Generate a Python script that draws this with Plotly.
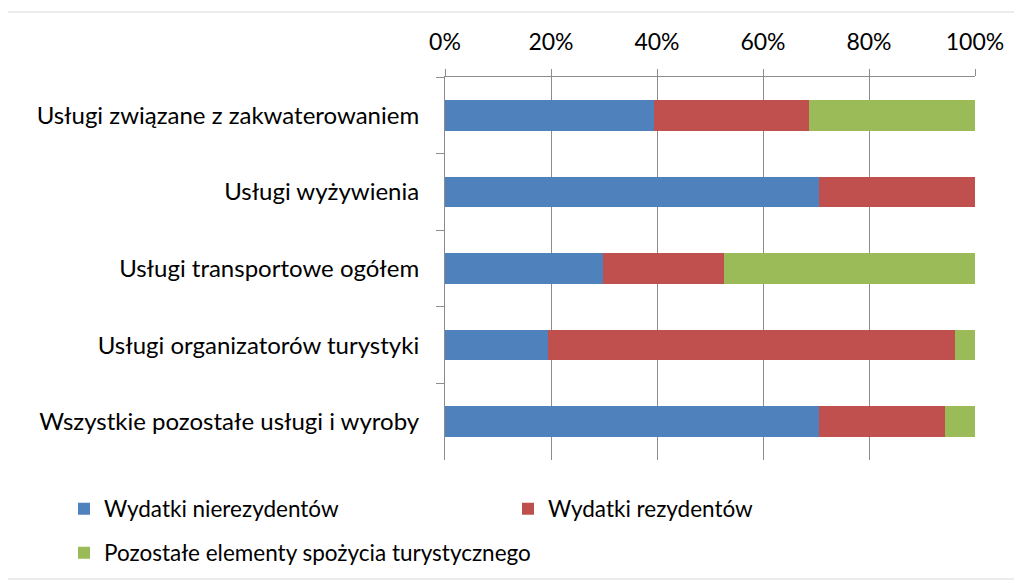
import plotly.graph_objects as go

categories = [
    "Usługi związane z zakwaterowaniem",
    "Usługi wyżywienia",
    "Usługi transportowe ogółem",
    "Usługi organizatorów turystyki",
    "Wszystkie pozostałe usługi i wyroby",
]
nierezydenci = [39.5, 70.6, 29.8, 19.5, 70.6]
rezydenci = [29.2, 29.4, 22.8, 76.8, 23.8]
pozostale = [31.3, 0.0, 47.4, 3.7, 5.6]
series_names = [
    "Wydatki nierezydentów",
    "Wydatki rezydentów",
    "Pozostałe elementy spożycia turystycznego",
]
colors = ["#4F81BD", "#C0504D", "#9BBB59"]
tick_vals = [0, 20, 40, 60, 80, 100]
tick_text = ["0%", "20%", "40%", "60%", "80%", "100%"]

OFF = 8  # page body margin
W, H = 1022, 583
# plot area in screen coordinates
SX0, SX1, SY0, SY1 = 445, 975, 77, 460
L = SX0 - OFF
R = W - (SX1 - OFF)
T = SY0 - OFF
B = H - (SY1 - OFF)
pw, ph = W - L - R, H - T - B

def px(x):
    return (x - OFF - L) / pw

def py(y):
    return (H - B - (y - OFF)) / ph

FONT = "Lato"

fig = go.Figure()
legends = ["legend", "legend2", "legend3"]
for name, vals, col, lg in zip(series_names, [nierezydenci, rezydenci, pozostale], colors, legends):
    fig.add_trace(go.Bar(
        y=categories, x=vals, name=name, orientation="h",
        marker=dict(color=col, line=dict(width=0)),
        legend=lg, showlegend=True,
    ))

leg_common = dict(
    orientation="h", xanchor="left", yanchor="middle",
    font=dict(size=22.5), itemwidth=30, bgcolor="rgba(0,0,0,0)",
    traceorder="normal",
)

fig.update_layout(
    width=W, height=H,
    showlegend=True,
    barmode="stack", bargap=0.6,
    margin=dict(l=L, r=R, t=T, b=B, autoexpand=False),
    plot_bgcolor="white", paper_bgcolor="white",
    font=dict(family=FONT, size=23, color="#000000"),
    xaxis=dict(
        side="top", range=[0, 100], tickvals=tick_vals, ticktext=tick_text,
        showgrid=True, gridcolor="#8C8C8C", gridwidth=1,
        showline=True, linecolor="#8C8C8C", linewidth=1,
        ticks="outside", ticklen=7, tickcolor="#8C8C8C",
        zeroline=False, fixedrange=True, ticklabelstandoff=10,
        tickfont=dict(size=23),
    ),
    yaxis=dict(
        autorange="reversed", showline=True, linecolor="#8C8C8C", linewidth=1,
        ticks="outside", ticklen=8, tickcolor="#8C8C8C", tickson="boundaries",
        showgrid=False, ticklabelstandoff=20,
        tickfont=dict(size=24),
    ),
    legend=dict(x=px(64), y=py(509), **leg_common),
    legend2=dict(x=px(508), y=py(509), **leg_common),
    legend3=dict(x=px(64), y=py(553), **leg_common),
    shapes=[dict(
        type="rect", xref="paper", yref="paper",
        x0=px(4), x1=px(1018), y0=py(579), y1=py(12),
        line=dict(color="#D9D9D9", width=1), fillcolor="rgba(0,0,0,0)",
        layer="below",
    )],
)

fig.write_html("out.html")
